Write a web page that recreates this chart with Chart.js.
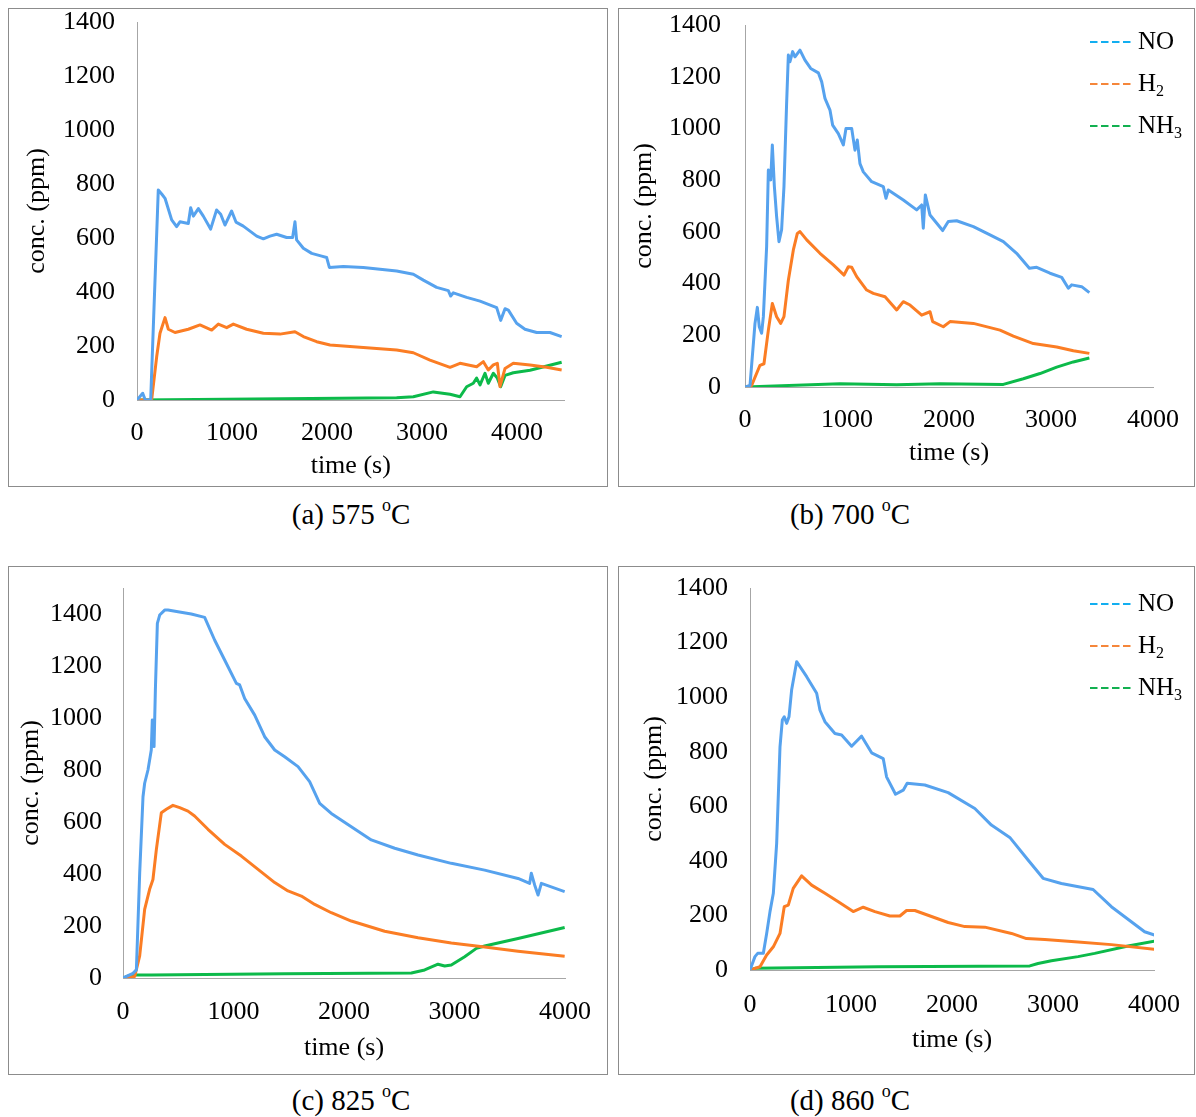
<!DOCTYPE html>
<html>
<head>
<meta charset="utf-8">
<script src="https://cdn.jsdelivr.net/npm/chart.js@4.4.1/dist/chart.umd.min.js"></script>
<style>
body { margin:0; background:#fff; font-family:"Liberation Serif", "DejaVu Serif", "Noto Serif", serif; }
#page { position:relative; width:1196px; height:1117px; overflow:hidden; }
.box { position:absolute; outline:1px solid #8c8c8c; outline-offset:-1px; }
.box canvas { position:absolute; left:0; top:0; }
.cap { position:absolute; width:400px; text-align:center; font-size:29px; line-height:34px; height:34px; color:#000; white-space:nowrap; }
.cap sup { font-size:18px; vertical-align:baseline; position:relative; top:-13px; }
</style>
</head>
<body>
<div id="page">
  <div class="box" style="left:8px;top:8px;width:600px;height:479px"><canvas id="ca" width="600" height="479"></canvas></div>
  <div class="box" style="left:618px;top:8px;width:577px;height:479px"><canvas id="cb" width="577" height="479"></canvas></div>
  <div class="box" style="left:8px;top:566px;width:600px;height:509px"><canvas id="cc" width="600" height="509"></canvas></div>
  <div class="box" style="left:618px;top:566px;width:577px;height:509px"><canvas id="cd" width="577" height="509"></canvas></div>
  <div class="cap" style="left:151px;top:497px">(a) 575 <sup>o</sup>C</div>
  <div class="cap" style="left:650px;top:497px">(b) 700 <sup>o</sup>C</div>
  <div class="cap" style="left:151px;top:1083px">(c) 825 <sup>o</sup>C</div>
  <div class="cap" style="left:650px;top:1083px">(d) 860 <sup>o</sup>C</div>
</div>
<script>
// [time (s), conc (ppm)]
var labels = ['NO', 'H2', 'NH3'];

var no575 = [[0,0],[60,25],[87,0],[144,0],[224,778],[260,763],[295,747],[365,667],[417,642],[452,660],[540,654],[565,712],[593,681],[646,709],[698,681],[775,633],[838,704],[881,688],[926,648],[996,700],[1042,659],[1119,644],[1260,607],[1330,597],[1400,607],[1470,614],[1575,602],[1638,602],[1663,660],[1680,593],[1751,562],[1839,543],[1944,533],[1996,528],[2025,491],[2172,494],[2382,491],[2558,484],[2733,478],[2909,466],[3014,444],[3154,417],[3277,405],[3302,385],[3330,397],[3470,380],[3611,366],[3786,342],[3828,295],[3874,338],[3909,333],[3996,284],[4084,262],[4207,250],[4347,250],[4470,235]];
var h2575 = [[0,0],[154,0],[207,160],[242,247],[295,305],[330,262],[400,250],[540,262],[663,278],[786,259],[856,281],[944,268],[1014,281],[1154,262],[1330,247],[1505,244],[1663,253],[1751,235],[1891,216],[2032,204],[2382,194],[2733,185],[2909,175],[3084,148],[3295,121],[3400,136],[3575,123],[3646,142],[3698,111],[3751,130],[3793,136],[3821,50],[3874,117],[3961,136],[4137,130],[4312,121],[4470,111]];
var nh3575 = [[0,0],[628,2],[2733,8],[2909,12],[3119,30],[3295,21],[3400,12],[3470,49],[3540,62],[3575,81],[3611,56],[3663,99],[3698,62],[3751,99],[3793,81],[3828,49],[3874,91],[3961,101],[4137,110],[4470,140]];

var no700 = [[0,0],[49,6],[98,246],[121,308],[140,233],[163,208],[180,272],[212,543],[229,839],[252,801],[268,936],[288,775],[310,659],[333,562],[359,608],[382,775],[408,1097],[425,1284],[441,1258],[467,1297],[490,1277],[539,1303],[588,1264],[644,1232],[719,1215],[752,1180],[784,1116],[833,1071],[859,1013],[915,980],[964,936],[990,1000],[1046,1000],[1078,916],[1101,955],[1127,864],[1160,832],[1242,794],[1356,775],[1382,730],[1405,762],[1552,723],[1683,685],[1732,704],[1748,614],[1768,743],[1814,665],[1938,605],[1993,640],[2075,643],[2239,620],[2402,588],[2533,562],[2663,517],[2788,459],[2860,463],[2990,440],[3105,424],[3170,382],[3203,395],[3301,388],[3376,365]];
var h2700 = [[0,0],[65,6],[147,84],[186,90],[229,220],[268,323],[310,272],[350,246],[382,272],[425,413],[474,530],[513,594],[539,601],[605,569],[735,517],[866,472],[971,433],[1013,465],[1046,463],[1095,427],[1193,375],[1258,362],[1373,349],[1487,298],[1552,330],[1618,317],[1732,278],[1814,291],[1840,253],[1944,233],[2010,253],[2239,246],[2500,220],[2631,197],[2827,168],[3056,155],[3219,140],[3376,130]];
var nh3700 = [[0,0],[931,13],[1487,9],[1912,13],[2533,10],[2729,32],[2892,52],[3056,77],[3219,97],[3376,112]];

var no825 = [[0,0],[90,18],[121,31],[151,403],[181,697],[196,749],[226,800],[256,877],[265,992],[281,890],[293,1108],[311,1364],[332,1396],[377,1415],[407,1415],[498,1409],[618,1400],[739,1387],[829,1300],[920,1223],[1026,1133],[1056,1127],[1101,1075],[1192,1011],[1282,928],[1373,877],[1463,851],[1584,813],[1689,755],[1780,672],[1885,633],[2066,582],[2247,531],[2459,499],[2670,473],[2971,441],[3273,415],[3575,383],[3680,364],[3695,403],[3726,357],[3756,319],[3786,364],[3997,332]];
var h2825 = [[0,0],[106,6],[151,85],[196,264],[241,341],[271,379],[302,495],[347,636],[392,649],[452,664],[513,655],[588,642],[648,623],[769,572],[920,514],[1071,469],[1222,418],[1373,367],[1493,335],[1614,315],[1735,283],[1885,251],[2066,219],[2368,180],[2670,155],[2971,135],[3273,119],[3575,103],[3997,84]];
var nh3825 = [[0,0],[75,12],[256,12],[1463,16],[2610,19],[2730,31],[2851,53],[2911,46],[2971,50],[3092,82],[3198,114],[3273,123],[3575,152],[3997,194]];

var no860 = [[0,0],[49,49],[76,61],[132,61],[165,134],[198,214],[231,281],[264,464],[297,818],[320,916],[339,928],[363,904],[386,928],[412,1026],[462,1130],[561,1075],[660,1014],[693,952],[742,910],[841,867],[907,861],[1006,820],[1105,857],[1204,796],[1319,775],[1352,708],[1441,644],[1517,659],[1556,684],[1731,678],[1962,650],[2226,592],[2390,531],[2572,486],[2753,403],[2902,336],[3083,317],[3397,295],[3578,232],[3907,140],[4006,128]];
var h2860 = [[0,0],[99,12],[165,55],[231,85],[297,134],[339,232],[379,238],[428,299],[511,345],[610,311],[742,281],[874,250],[1022,214],[1121,230],[1237,214],[1385,198],[1484,198],[1550,218],[1632,218],[1797,196],[1962,174],[2127,159],[2325,157],[2589,134],[2737,115],[2918,112],[3248,103],[3578,93],[4006,76]];
var nh3860 = [[0,0],[49,6],[1270,12],[2770,15],[2852,24],[2984,34],[3248,49],[3413,61],[3743,88],[4006,106]];

var xTicks = [0, 1000, 2000, 3000, 4000];
var yTicks = [0, 200, 400, 600, 800, 1000, 1200, 1400];

var lineColors = ['#56a2ee', '#fb7d24', '#0cba4a'];
var legendColors = ['#12aef0', '#f5863a', '#12b050'];
var FONT = '"Liberation Serif", "DejaVu Serif", "Noto Serif", serif';

function pts(arr) {
    return arr.map(function (d) { return {x: d[0], y: d[1]}; });
}

// dashed legend with subscripts, like the excel one
var dashLegend = {
    id: 'dashLegend',
    afterDraw: function (chart, args, opts) {
        if (!opts.show) return;
        var ctx = chart.ctx;
        chart.data.datasets.forEach(function (ds, i) {
            var y = opts.y + i * opts.gap;
            ctx.save();
            ctx.strokeStyle = legendColors[i];
            ctx.lineWidth = 2;
            ctx.setLineDash([7.5, 3.5]);
            ctx.beginPath();
            ctx.moveTo(opts.x, y);
            ctx.lineTo(opts.x + 41, y);
            ctx.stroke();
            ctx.setLineDash([]);
            ctx.fillStyle = '#000';
            ctx.textBaseline = 'middle';
            ctx.font = '25px ' + FONT;
            var m = ds.label.match(/^(\D+)(\d*)$/);
            ctx.fillText(m[1], opts.x + 48, y);
            if (m[2]) {
                var w = ctx.measureText(m[1]).width;
                ctx.font = '16px ' + FONT;
                ctx.fillText(m[2], opts.x + 48 + w, y + 8);
            }
            ctx.restore();
        });
    }
};

function makeChart(id, p) {
    var ctx = document.getElementById(id).getContext('2d');
    return new Chart(ctx, {
        type: 'line',
        data: {
            datasets: p.series.map(function (s, i) {
                return {
                    label: labels[i],
                    data: pts(s),
                    borderColor: lineColors[i],
                    backgroundColor: lineColors[i],
                    borderWidth: 3,
                    pointRadius: 0,
                    tension: 0,
                    fill: false,
                    borderJoinStyle: 'round'
                };
            })
        },
        options: {
            responsive: false,
            animation: false,
            layout: { padding: { left: 0, top: p.top, right: p.right, bottom: 0 } },
            plugins: {
                legend: { display: false },
                tooltip: { enabled: false },
                dashLegend: p.legend ? { show: true, x: 472, y: p.legend, gap: 42 } : { show: false }
            },
            scales: {
                x: {
                    type: 'linear',
                    min: 0,
                    max: p.xMax,
                    afterBuildTicks: function (s) { s.ticks = xTicks.map(function (v) { return {value: v}; }); },
                    ticks: {
                        autoSkip: false, maxRotation: 0, padding: p.xtPad, color: '#000',
                        font: { family: FONT, size: 26 },
                        callback: function (v) { return String(v); }
                    },
                    grid: { display: false, drawTicks: false },
                    border: { display: true, color: '#a6a6a6', width: 1 },
                    title: {
                        display: true, text: 'time (s)', color: '#000',
                        font: { family: FONT, size: 26 },
                        padding: { top: 0, bottom: p.xtitlePad }
                    },
                    afterFit: function (s) { s.height = p.xH; s.paddingLeft = 0; s.paddingRight = 0; }
                },
                y: {
                    type: 'linear',
                    min: 0,
                    max: p.yMax,
                    afterBuildTicks: function (s) { s.ticks = yTicks.map(function (v) { return {value: v}; }); },
                    ticks: {
                        autoSkip: false, padding: p.ytPad, color: '#000',
                        font: { family: FONT, size: 26 },
                        callback: function (v) { return String(v); }
                    },
                    grid: { display: false, drawTicks: false },
                    border: { display: true, color: '#a6a6a6', width: 1 },
                    title: {
                        display: true, text: 'conc. (ppm)', color: '#000',
                        font: { family: FONT, size: 26 },
                        padding: { top: p.ytitlePad, bottom: 0 }
                    },
                    afterFit: function (s) { s.width = p.yW; s.paddingTop = 0; s.paddingBottom = 0; }
                }
            }
        },
        plugins: [dashLegend]
    });
}

makeChart('ca', { series: [no575, h2575, nh3575], xMax: 4500, yMax: 1400,
    yW: 129, xH: 87, top: 14, right: 43.5, ytPad: 22, xtPad: 18, xtitlePad: 5, ytitlePad: 14 });
makeChart('cb', { series: [no700, h2700, nh3700], xMax: 4000, yMax: 1400,
    yW: 127, xH: 100, top: 17, right: 42, ytPad: 24, xtPad: 18, xtitlePad: 18, ytitlePad: 11, legend: 34 });
makeChart('cc', { series: [no825, h2825, nh3825], xMax: 4000, yMax: 1500,
    yW: 115, xH: 97, top: 22, right: 43, ytPad: 21, xtPad: 19, xtitlePad: 11, ytitlePad: 8 });
makeChart('cd', { series: [no860, h2860, nh3860], xMax: 4000, yMax: 1400,
    yW: 132, xH: 105, top: 22, right: 41, ytPad: 22, xtPad: 20, xtitlePad: 19, ytitlePad: 21, legend: 38 });
</script>
</body>
</html>
